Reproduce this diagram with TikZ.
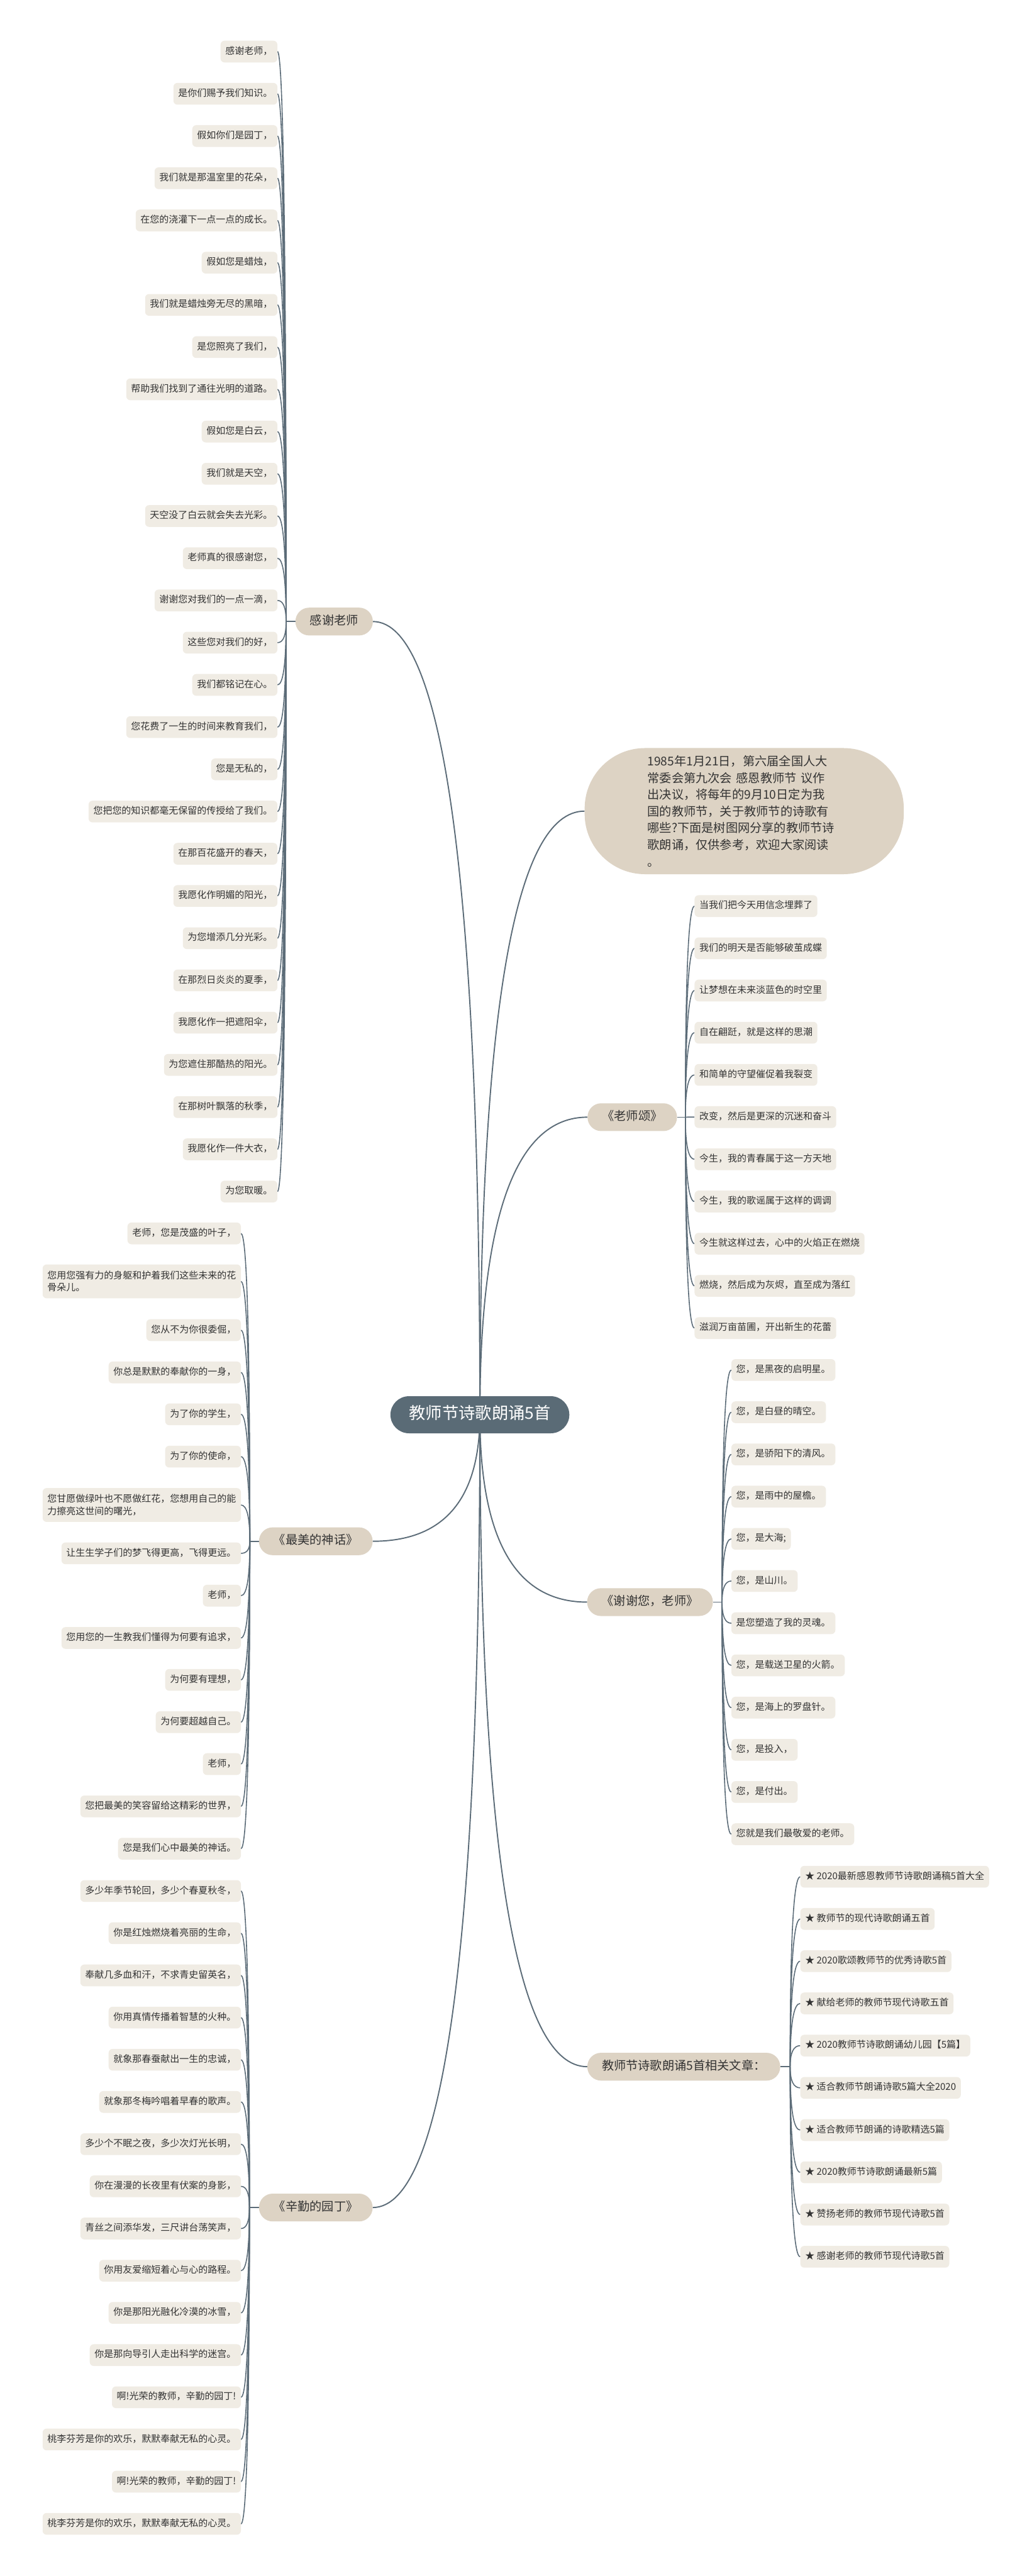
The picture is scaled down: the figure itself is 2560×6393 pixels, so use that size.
\documentclass[tikz,border=0pt]{standalone}
\usepackage{fontspec}
\setmainfont{Noto Sans CJK SC}
\usetikzlibrary{calc}
\definecolor{leafc}{HTML}{F0ECE4}
\definecolor{branchc}{HTML}{DDD3C4}
\definecolor{rootc}{HTML}{5A6B76}
\definecolor{linkc}{HTML}{5C6C78}
\definecolor{textc}{HTML}{333333}
\pgfdeclarelayer{back}
\pgfdeclarelayer{bg}
\pgfsetlayers{back,bg,main}
\newcommand\leaffont{\fontsize{23.4pt}{30pt}\selectfont}
\newcommand\qlink[3][conn]{%
  \path (#2 |- #3) coordinate (qq);
  \draw[#1] (#2) .. controls ($(#2)!0.6667!(qq)$) and ($(#3)!0.6667!(qq)$) .. (#3);}
\tikzset{
  leafbase/.style={fill=leafc, rounded corners=10pt, inner xsep=12pt, inner ysep=0pt,
    font=\leaffont, text=textc},
  leafnode/.style={leafbase, minimum height=54pt, text height=18pt, text depth=5pt},
  leaftwo/.style={leafbase, minimum height=84pt, align=left},
  branchnode/.style={fill=branchc, rounded corners=34pt, inner xsep=36pt, inner ysep=0pt,
    minimum height=69pt, text height=22pt, text depth=6pt,
    font=\fontsize{30pt}{36pt}\selectfont, text=textc},
  rootnode/.style={fill=rootc, rounded corners=46pt, minimum width=444pt, minimum height=92pt,
    inner sep=0pt, text height=30pt, text depth=8pt,
    font=\fontsize{41pt}{48pt}\selectfont, text=white},
  intronode/.style={fill=branchc, rounded corners=150pt, minimum width=792pt, minimum height=313pt,
    text width=480pt, align=left, inner sep=0pt,
    font=\fontsize{30pt}{41.5pt}\selectfont, text=textc},
  conn/.style={draw=linkc, line width=2.5pt},
  mainconn/.style={draw=linkc, line width=3pt},
}
\begin{document}
\begin{tikzpicture}[x=1pt,y=-1pt]
\useasboundingbox (0,0) rectangle (2560,6393);
\begin{pgfonlayer}{back}
\fill[white] (0,0) rectangle (2560,6393);
\end{pgfonlayer}

% root and branches
\node[rootnode] (root) at (1191,3511) {教师节诗歌朗诵5首};
\node[branchnode, anchor=east] (b1) at (925.5,1542.5) {感谢老师};
\node[branchnode, anchor=east] (b2) at (925,3825) {《最美的神话》};
\node[branchnode, anchor=east] (b3) at (925,5478.5) {《辛勤的园丁》};
\node[intronode] (r0) at (1847,2013) {1985年1月21日，第六届全国人大\\常委会第九次会 感恩教师节 议作\\出决议，将每年的9月10日定为我\\国的教师节，关于教师节的诗歌有\\哪些?下面是树图网分享的教师节诗\\歌朗诵，仅供参考，欢迎大家阅读\\。};
\node[branchnode, anchor=west] (r1) at (1458,2772.5) {《老师颂》};
\node[branchnode, anchor=west] (r2) at (1457,3976) {《谢谢您，老师》};
\node[branchnode, anchor=west] (r3) at (1457.5,5129) {教师节诗歌朗诵5首相关文章：};

\coordinate (pa) at (710,1542.5);
\coordinate (pb) at (620,3825);
\coordinate (pc) at (619,5478.5);
\coordinate (pd) at (1701,2772.5);
\coordinate (pe) at (1792,3976);
\coordinate (pf) at (1961,5129);

% branch 1 leaves
\foreach \t [count=\i from 0] in {感谢老师，,是你们赐予我们知识。,假如你们是园丁，,我们就是那温室里的花朵，,在您的浇灌下一点一点的成长。,假如您是蜡烛，,我们就是蜡烛旁无尽的黑暗，,是您照亮了我们，,帮助我们找到了通往光明的道路。,假如您是白云，,我们就是天空，,天空没了白云就会失去光彩。,老师真的很感谢您，,谢谢您对我们的一点一滴，,这些您对我们的好，,我们都铭记在心。,您花费了一生的时间来教育我们，,您是无私的，,您把您的知识都毫无保留的传授给了我们。,在那百花盛开的春天，,我愿化作明媚的阳光，,为您增添几分光彩。,在那烈日炎炎的夏季，,我愿化作一把遮阳伞，,为您遮住那酷热的阳光。,在那树叶飘落的秋季，,我愿化作一件大衣，,为您取暖。}
  {\node[leafnode, anchor=east] (a\i) at (688.6,{128+104.78*\i}) {\t};}

% branch 2 leaves
\node[leafnode, anchor=east] (c0) at (598,3061) {老师，您是茂盛的叶子，};
\node[leaftwo, anchor=east] (c1) at (598,3180) {您用您强有力的身躯和护着我们这些未来的花\\骨朵儿。};
\node[leafnode, anchor=east] (c2) at (598,3301) {您从不为你很委倔，};
\node[leafnode, anchor=east] (c3) at (598,3406) {你总是默默的奉献你的一身，};
\node[leafnode, anchor=east] (c4) at (598,3510) {为了你的学生，};
\node[leafnode, anchor=east] (c5) at (598,3615) {为了你的使命，};
\node[leaftwo, anchor=east] (c6) at (598,3735) {您甘愿做绿叶也不愿做红花，您想用自己的能\\力擦亮这世间的曙光，};
\node[leafnode, anchor=east] (c7) at (598,3855) {让生生学子们的梦飞得更高，飞得更远。};
\node[leafnode, anchor=east] (c8) at (598,3960) {老师，};
\node[leafnode, anchor=east] (c9) at (598,4065) {您用您的一生教我们懂得为何要有追求，};
\node[leafnode, anchor=east] (c10) at (598,4169) {为何要有理想，};
\node[leafnode, anchor=east] (c11) at (598,4274) {为何要超越自己。};
\node[leafnode, anchor=east] (c12) at (598,4378) {老师，};
\node[leafnode, anchor=east] (c13) at (598,4483) {您把最美的笑容留给这精彩的世界，};
\node[leafnode, anchor=east] (c14) at (598,4588) {您是我们心中最美的神话。};

% branch 3 leaves
\foreach \t [count=\i from 0] in {多少年季节轮回，多少个春夏秋冬，,你是红烛燃烧着亮丽的生命，,奉献几多血和汗，不求青史留英名，,你用真情传播着智慧的火种。,就象那春蚕献出一生的忠诚，,就象那冬梅吟唱着早春的歌声。,多少个不眠之夜，多少次灯光长明，,你在漫漫的长夜里有伏案的身影，,青丝之间添华发，三尺讲台荡笑声，,你用友爱缩短着心与心的路程。,你是那阳光融化冷漠的冰雪，,你是那向导引人走出科学的迷宫。,啊!光荣的教师，辛勤的园丁!,桃李芬芳是你的欢乐，默默奉献无私的心灵。,啊!光荣的教师，辛勤的园丁!,桃李芬芳是你的欢乐，默默奉献无私的心灵。}
  {\node[leafnode, anchor=east] (g\i) at (598,{4693+104.7*\i}) {\t};}

% right branch: 老师颂
\foreach \t [count=\i from 0] in {当我们把今天用信念埋葬了,我们的明天是否能够破茧成蝶,让梦想在未来淡蓝色的时空里,自在翩跹，就是这样的思潮,和简单的守望催促着我裂变,改变，然后是更深的沉迷和奋斗,今生，我的青春属于这一方天地,今生，我的歌谣属于这样的调调,今生就这样过去，心中的火焰正在燃烧,燃烧，然后成为灰烬，直至成为落红,滋润万亩苗圃，开出新生的花蕾}
  {\node[leafnode, anchor=west] (d\i) at (1723.6,{2248.7+104.73*\i}) {\t};}

% right branch: 谢谢您，老师
\foreach \t [count=\i from 0] in {您，是黑夜的启明星。,您，是白昼的晴空。,您，是骄阳下的清风。,您，是雨中的屋檐。,您，是大海;,您，是山川。,是您塑造了我的灵魂。,您，是载送卫星的火箭。,您，是海上的罗盘针。,您，是投入，,您，是付出。,您就是我们最敬爱的老师。}
  {\node[leafnode, anchor=west] (e\i) at (1815,{3400+104.73*\i}) {\t};}

% right branch: related articles
\foreach \t [count=\i from 0] in {★ 2020最新感恩教师节诗歌朗诵稿5首大全,★ 教师节的现代诗歌朗诵五首,★ 2020歌颂教师节的优秀诗歌5首,★ 献给老师的教师节现代诗歌五首,★ 2020教师节诗歌朗诵幼儿园【5篇】,★ 适合教师节朗诵诗歌5篇大全2020,★ 适合教师节朗诵的诗歌精选5篇,★ 2020教师节诗歌朗诵最新5篇,★ 赞扬老师的教师节现代诗歌5首,★ 感谢老师的教师节现代诗歌5首}
  {\node[leafnode, anchor=west] (f\i) at (1986,{4657.5+104.8*\i}) {\t};}

\begin{pgfonlayer}{bg}
  \qlink[mainconn]{root.center}{b1.east}
  \qlink[mainconn]{root.center}{b2.east}
  \qlink[mainconn]{root.center}{b3.east}
  \qlink[mainconn]{root.center}{r0.west}
  \qlink[mainconn]{root.center}{r1.west}
  \qlink[mainconn]{root.center}{r2.west}
  \qlink[mainconn]{root.center}{r3.west}
  \draw[conn] (b1.west) -- (pa);
  \draw[conn] (b2.west) -- (pb);
  \draw[conn] (b3.west) -- (pc);
  \draw[conn] (r1.east) -- (pd);
  \draw[conn] (r2.east) -- (pe);
  \draw[conn] (r3.east) -- (pf);
  \foreach \i in {0,...,27} {\qlink{pa}{a\i.east}}
  \foreach \i in {0,...,14} {\qlink{pb}{c\i.east}}
  \foreach \i in {0,...,15} {\qlink{pc}{g\i.east}}
  \foreach \i in {0,...,10} {\qlink{pd}{d\i.west}}
  \foreach \i in {0,...,11} {\qlink{pe}{e\i.west}}
  \foreach \i in {0,...,9} {\qlink{pf}{f\i.west}}
\end{pgfonlayer}
\end{tikzpicture}
\end{document}
